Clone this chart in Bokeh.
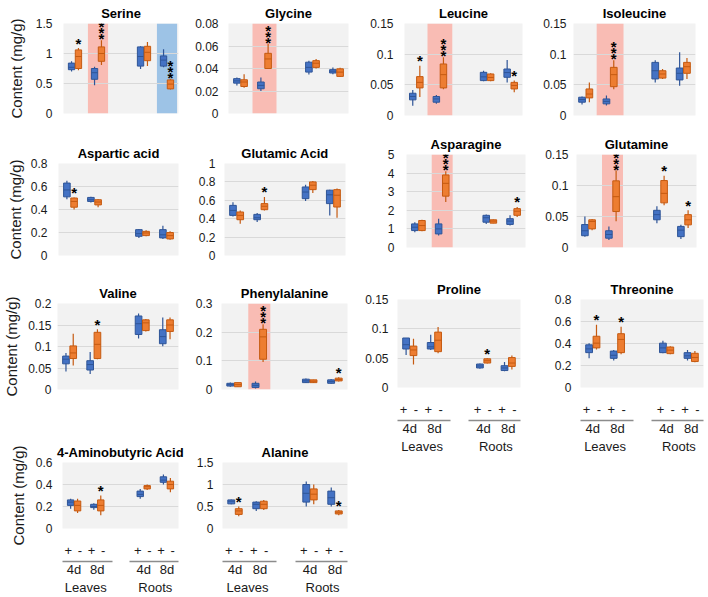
from bokeh.plotting import figure
from bokeh.models import (FactorRange, Range1d, FixedTicker, ColumnDataSource,
                          CategoricalAxis)
from bokeh.transform import dodge
from bokeh.layouts import row, column
from bokeh.embed import file_html
from bokeh.resources import INLINE
from bokeh.core.properties import value

# ---------------- data ----------------
tissues = ["Leaves", "Roots"]
days = ["4d", "8d"]
treatments = ["+", "-"]
# order of every list: Leaves4d+, Leaves4d-, Leaves8d+, Leaves8d-, Roots4d+, Roots4d-, Roots8d+, Roots8d-

serine = dict(lo=[0.70, 0.72, 0.47, 0.81, 0.74, 0.79, 0.77, 0.40],
              q1=[0.73, 0.75, 0.57, 0.87, 0.79, 0.88, 0.79, 0.41],
              med=[0.77, 0.95, 0.68, 1.00, 0.95, 1.02, 0.89, 0.49],
              q3=[0.84, 1.06, 0.75, 1.11, 1.11, 1.12, 0.96, 0.56],
              hi=[0.87, 1.09, 0.78, 1.22, 1.12, 1.19, 1.07, 0.58])
serine_ticks = ["0", "0.5", "1", "1.5"]
serine_stars = [("Leaves", "4d", 1), ("Leaves", "8d", 3), ("Roots", "8d", 3)]

glycine = dict(lo=[0.025, 0.023, 0.020, 0.040, 0.0347, 0.040, 0.035, 0.0324],
               q1=[0.027, 0.024, 0.022, 0.040, 0.0368, 0.041, 0.036, 0.033],
               med=[0.029, 0.028, 0.025, 0.0485, 0.041, 0.0447, 0.0376, 0.0368],
               q3=[0.031, 0.030, 0.028, 0.0535, 0.0456, 0.047, 0.039, 0.0397],
               hi=[0.032, 0.035, 0.032, 0.062, 0.047, 0.0485, 0.041, 0.0406])
glycine_ticks = ["0", "0.02", "0.04", "0.06", "0.08"]
glycine_stars = [("Leaves", "8d", 3)]

leucine = dict(lo=[0.016, 0.030, 0.019, 0.043, 0.0558, 0.0558, 0.054, 0.038],
               q1=[0.0255, 0.045, 0.0217, 0.045, 0.0569, 0.0569, 0.0623, 0.0433],
               med=[0.031, 0.054, 0.027, 0.0666, 0.063, 0.062, 0.070, 0.049],
               q3=[0.0363, 0.0634, 0.031, 0.084, 0.0704, 0.0677, 0.0758, 0.054],
               hi=[0.0417, 0.081, 0.0336, 0.095, 0.073, 0.0688, 0.0904, 0.0569])
leucine_ticks = ["0", "0.05", "0.1", "0.15"]
leucine_stars = [("Leaves", "4d", 1), ("Leaves", "8d", 3), ("Roots", "8d", 1)]

isoleucine = dict(lo=[0.018, 0.0217, 0.0162, 0.043, 0.054, 0.0596, 0.0487, 0.0596],
                  q1=[0.0217, 0.0287, 0.019, 0.047, 0.0596, 0.061, 0.058, 0.0688],
                  med=[0.026, 0.035, 0.023, 0.0666, 0.073, 0.0677, 0.0688, 0.0796],
                  q3=[0.0298, 0.0433, 0.027, 0.0785, 0.0866, 0.073, 0.0774, 0.0866],
                  hi=[0.031, 0.054, 0.0325, 0.090, 0.090, 0.0758, 0.103, 0.0937])
isoleucine_ticks = ["0", "0.05", "0.1", "0.15"]
isoleucine_stars = [("Leaves", "8d", 3)]

aspartic = dict(lo=[0.49, 0.40, 0.46, 0.42, 0.153, 0.167, 0.144, 0.138],
                q1=[0.51, 0.42, 0.47, 0.44, 0.167, 0.173, 0.153, 0.144],
                med=[0.57, 0.47, 0.485, 0.465, 0.19, 0.196, 0.18, 0.173],
                q3=[0.63, 0.50, 0.505, 0.485, 0.225, 0.21, 0.225, 0.20],
                hi=[0.65, 0.505, 0.51, 0.49, 0.23, 0.22, 0.259, 0.21])
aspartic_ticks = ["0", "0.2", "0.4", "0.6", "0.8"]
aspartic_stars = [("Leaves", "4d", 1)]

glutamic = dict(lo=[0.425, 0.345, 0.364, 0.49, 0.593, 0.68, 0.436, 0.41],
                q1=[0.436, 0.389, 0.389, 0.498, 0.618, 0.716, 0.564, 0.527],
                med=[0.49, 0.436, 0.41, 0.535, 0.69, 0.764, 0.66, 0.655],
                q3=[0.545, 0.473, 0.447, 0.564, 0.745, 0.80, 0.71, 0.716],
                hi=[0.58, 0.49, 0.462, 0.636, 0.77, 0.81, 0.716, 0.727])
glutamic_ticks = ["0", "0.2", "0.4", "0.6", "0.8", "1"]
glutamic_stars = [("Leaves", "8d", 1)]

asparagine = dict(lo=[0.82, 0.87, 0.64, 2.45, 1.27, 1.31, 1.18, 1.64],
                  q1=[0.91, 0.91, 0.73, 2.76, 1.36, 1.31, 1.24, 1.73],
                  med=[1.09, 1.18, 1.0, 3.45, 1.6, 1.42, 1.42, 1.95],
                  q3=[1.27, 1.45, 1.27, 3.9, 1.73, 1.49, 1.55, 2.09],
                  hi=[1.36, 1.49, 1.55, 4.1, 1.78, 1.5, 1.73, 2.18])
asparagine_ticks = ["0", "1", "2", "3", "4", "5"]
asparagine_stars = [("Leaves", "8d", 3), ("Roots", "8d", 1)]

glutamine = dict(lo=[0.0175, 0.028, 0.012, 0.0425, 0.039, 0.068, 0.0136, 0.0316],
                 q1=[0.019, 0.030, 0.015, 0.058, 0.0447, 0.072, 0.0175, 0.0365],
                 med=[0.027, 0.042, 0.021, 0.082, 0.053, 0.0873, 0.028, 0.0447],
                 q3=[0.037, 0.0447, 0.027, 0.1075, 0.060, 0.108, 0.034, 0.053],
                 hi=[0.050, 0.046, 0.034, 0.124, 0.0666, 0.1157, 0.0365, 0.060])
glutamine_ticks = ["0", "0.05", "0.1", "0.15"]
glutamine_stars = [("Leaves", "8d", 3), ("Roots", "4d", 1), ("Roots", "8d", 1)]

valine = dict(lo=[0.042, 0.056, 0.036, 0.0705, 0.1187, 0.135, 0.1007, 0.117],
              q1=[0.0597, 0.072, 0.0453, 0.072, 0.128, 0.137, 0.1065, 0.135],
              med=[0.0705, 0.085, 0.058, 0.105, 0.153, 0.155, 0.123, 0.15],
              q3=[0.0777, 0.1014, 0.067, 0.133, 0.171, 0.162, 0.139, 0.162],
              hi=[0.085, 0.1295, 0.087, 0.14, 0.177, 0.164, 0.1676, 0.1676])
valine_ticks = ["0", "0.05", "0.1", "0.15", "0.2"]
valine_stars = [("Leaves", "8d", 1)]

phenylalanine = dict(lo=[0.0096, 0.0096, 0.0036, 0.096, 0.0228, 0.023, 0.020, 0.0276],
                     q1=[0.012, 0.0096, 0.0072, 0.1056, 0.024, 0.024, 0.0216, 0.030],
                     med=[0.0168, 0.0168, 0.0144, 0.1836, 0.030, 0.0288, 0.0276, 0.035],
                     q3=[0.0216, 0.024, 0.0216, 0.21, 0.036, 0.0336, 0.0336, 0.0396],
                     hi=[0.024, 0.024, 0.0276, 0.228, 0.0384, 0.034, 0.037, 0.043])
phenylalanine_ticks = ["0", "0.1", "0.2", "0.3"]
phenylalanine_stars = [("Leaves", "8d", 3), ("Roots", "8d", 1)]

proline = dict(lo=[0.0556, 0.039, 0.064, 0.0583, 0.032, 0.041, 0.0278, 0.0306],
               q1=[0.0656, 0.0544, 0.0656, 0.0611, 0.0333, 0.0417, 0.0289, 0.036],
               med=[0.073, 0.064, 0.0694, 0.0806, 0.0367, 0.0456, 0.0333, 0.0417],
               q3=[0.0844, 0.0706, 0.0767, 0.0944, 0.040, 0.0489, 0.0372, 0.051],
               hi=[0.0844, 0.083, 0.09, 0.103, 0.041, 0.050, 0.0433, 0.0544])
proline_ticks = ["0", "0.05", "0.1", "0.15"]
proline_stars = [("Roots", "4d", 1)]

threonine = dict(lo=[0.265, 0.345, 0.245, 0.302, 0.311, 0.302, 0.245, 0.23],
                 q1=[0.317, 0.36, 0.265, 0.317, 0.317, 0.308, 0.265, 0.236],
                 med=[0.351, 0.403, 0.293, 0.437, 0.36, 0.34, 0.288, 0.273],
                 q3=[0.388, 0.466, 0.331, 0.489, 0.403, 0.368, 0.317, 0.311],
                 hi=[0.403, 0.57, 0.34, 0.552, 0.426, 0.374, 0.34, 0.331])
threonine_ticks = ["0", "0.2", "0.4", "0.6", "0.8"]
threonine_stars = [("Leaves", "4d", 1), ("Leaves", "8d", 1)]

gaba = dict(lo=[0.18, 0.14, 0.17, 0.12, 0.27, 0.35, 0.40, 0.33],
            q1=[0.21, 0.16, 0.19, 0.16, 0.29, 0.36, 0.42, 0.36],
            med=[0.24, 0.21, 0.20, 0.21, 0.31, 0.38, 0.44, 0.40],
            q3=[0.26, 0.25, 0.22, 0.26, 0.34, 0.39, 0.47, 0.43],
            hi=[0.27, 0.27, 0.23, 0.30, 0.36, 0.40, 0.49, 0.46])
gaba_ticks = ["0", "0.2", "0.4", "0.6"]
gaba_stars = [("Leaves", "8d", 1)]

alanine = dict(lo=[0.55, 0.28, 0.40, 0.42, 0.50, 0.55, 0.50, 0.30],
               q1=[0.56, 0.32, 0.45, 0.45, 0.60, 0.65, 0.55, 0.33],
               med=[0.62, 0.40, 0.55, 0.55, 0.80, 0.78, 0.70, 0.37],
               q3=[0.65, 0.45, 0.60, 0.62, 1.00, 0.90, 0.85, 0.40],
               hi=[0.66, 0.50, 0.62, 0.65, 1.07, 1.00, 0.93, 0.42])
alanine_ticks = ["0", "0.5", "1", "1.5"]
alanine_stars = [("Leaves", "4d", 1), ("Roots", "8d", 1)]

# ---------------- style ----------------
FONT = "Liberation Sans"
BLUE, BLUE_EDGE = "#4472C4", "#2F5597"
ORANGE, ORANGE_EDGE = "#ED7D31", "#C55A11"
RED_SHADE, BLUE_SHADE = "#F9BCB4", "#9DC3E6"
BG, GRID = "#F2F2F2", "#D9D9D9"
SEP = "#8C8C8C"
TXT = "#1a1a1a"
BOX_W = 0.55
OFF = 0.2
GROUP_PAD = 2

factors = [(t, d, s) for t in tissues for d in days for s in treatments]
day_factors = [(t, d) for t in tissues for d in days]


def style_text_axis(ax):
    ax.axis_line_color = None
    ax.major_tick_line_color = None
    ax.minor_tick_line_color = None
    ax.major_tick_out = 0
    ax.major_tick_in = 0
    ax.separator_line_color = None
    for pre in ("major_label_text", "subgroup_text", "group_text"):
        setattr(ax, pre + "_font", FONT)
        setattr(ax, pre + "_font_size", "13px")
        setattr(ax, pre + "_font_style", "normal")
        setattr(ax, pre + "_color", TXT)


def hidden_axis(**kw):
    a = CategoricalAxis(**kw)
    style_text_axis(a)
    a.major_label_text_color = None
    a.subgroup_text_color = None
    a.group_text_color = None
    return a


def make_panel(title, stats, ticks, stars, shades, canvas, frame,
               ylabel=False, xlabels=False, ylabel_standoff=4, tick_standoff=9):
    cx0, cy0, cx1, cy1 = canvas
    fx0, fy0, fx1, fy1 = frame
    tick_vals = [float(t) for t in ticks]
    xr = FactorRange(factors=factors, factor_padding=0, subgroup_padding=0,
                     group_padding=GROUP_PAD, range_padding=0)
    p = figure(width=cx1 - cx0, height=cy1 - cy0, x_range=xr,
               y_range=Range1d(tick_vals[0], tick_vals[-1]),
               min_border_left=fx0 - cx0, min_border_right=cx1 - fx1,
               min_border_top=fy0 - cy0, min_border_bottom=cy1 - fy1,
               output_backend="svg", toolbar_location=None,
               x_axis_location="below" if xlabels else None,
               background_fill_color=BG, border_fill_color="white",
               outline_line_color=None, title=title)
    p.title.align = "center"
    p.title.text_font = FONT
    p.title.text_font_size = "13px"
    p.title.text_font_style = "bold"
    p.title.text_color = "#000000"
    p.title.standoff = 6

    ticker = FixedTicker(ticks=tick_vals)
    ax = p.yaxis[0]
    ax.ticker = ticker
    ax.major_label_overrides = {v: t for v, t in zip(tick_vals, ticks)}
    ax.axis_line_color = None
    ax.major_tick_line_color = None
    ax.minor_tick_line_color = None
    ax.major_tick_out = 0
    ax.major_tick_in = 0
    ax.major_label_standoff = tick_standoff
    ax.major_label_text_font = FONT
    ax.major_label_text_font_size = "12px"
    ax.major_label_text_color = TXT
    if ylabel:
        ax.axis_label = "Content (mg/g)"
        ax.axis_label_text_font = FONT
        ax.axis_label_text_font_size = "15px"
        ax.axis_label_text_font_style = "normal"
        ax.axis_label_text_color = TXT
        ax.axis_label_standoff = ylabel_standoff
    p.ygrid.ticker = ticker
    p.ygrid.grid_line_color = GRID
    p.xgrid.grid_line_color = None

    if xlabels:
        # row 1: "+ -" (innermost level of the main factor range)
        pm = p.xaxis[0]
        style_text_axis(pm)
        pm.major_label_standoff = 17
        pm.subgroup_text_color = None
        pm.group_text_color = None
        # small gap, then a rule under each tissue group (label-less axes limited by bounds)
        gap = hidden_axis()
        gap.major_tick_out = 4
        p.add_layout(gap, "below")
        for a, b in [(0.0, 4.3), (5.8, 10.2)]:
            la = hidden_axis(bounds=(a, b))
            la.axis_line_color = SEP
            la.axis_line_width = 1.3
            p.add_layout(la, "below")
        # rows 2 and 3: days and tissues
        p.extra_x_ranges = {
            "days": FactorRange(factors=day_factors, factor_padding=1,
                                group_padding=GROUP_PAD + 1, range_padding=0.5,
                                range_padding_units="absolute"),
        }
        da = CategoricalAxis(x_range_name="days")
        style_text_axis(da)
        da.major_label_standoff = 0
        p.add_layout(da, "below")

    for (t, d, color, w) in shades:
        p.vbar(x=[(t, d)], width=w, bottom=tick_vals[0], top=tick_vals[-1],
               fill_color=color, line_color=None, level="underlay")

    for idx, off, fill, edge in [(range(0, 8, 2), OFF, BLUE, BLUE_EDGE),
                                 (range(1, 8, 2), -OFF, ORANGE, ORANGE_EDGE)]:
        data = {k: [stats[k][i] for i in idx] for k in ("lo", "q1", "med", "q3", "hi")}
        data["x"] = [factors[i] for i in idx]
        src = ColumnDataSource(data)
        p.segment(x0=dodge("x", off, range=xr), x1=dodge("x", off, range=xr),
                  y0="lo", y1="hi", source=src, line_color=edge, line_width=1.2)
        p.vbar(x=dodge("x", off, range=xr), width=BOX_W, bottom="q1", top="q3",
               source=src, fill_color=fill, line_color=edge, line_width=1)
        p.segment(x0=dodge("x", off - BOX_W / 2, range=xr),
                  x1=dodge("x", off + BOX_W / 2, range=xr),
                  y0="med", y1="med", source=src, line_color=edge, line_width=1)

    sx, sy, so, st = [], [], [], []
    for (t, d, n) in stars:
        i = factors.index((t, d, "-"))
        for k in range(n):
            sx.append((t, d, "-"))
            sy.append(stats["hi"][i])
            so.append(-5 if n == 1 else -1.5 - 6 * k)
            st.append("*")
    if sx:
        ssrc = ColumnDataSource(dict(x=sx, y=sy, off=so, t=st))
        p.text(x=dodge("x", -OFF, range=xr), y="y", text="t", y_offset="off",
               source=ssrc, text_align="center", text_baseline="alphabetic",
               text_font=value(FONT), text_font_size="15px", text_font_style="bold",
               text_color="#000000")
    return p


p_serine = make_panel("Serine", serine, serine_ticks, serine_stars,
                      [("Leaves", "8d", RED_SHADE, 1.75), ("Roots", "8d", BLUE_SHADE, 1.75)],
                      (0, 0, 192, 130), (63, 23, 178, 115), ylabel=True,
                      ylabel_standoff=8, tick_standoff=11)
p_glycine = make_panel("Glycine", glycine, glycine_ticks, glycine_stars,
                       [("Leaves", "8d", RED_SHADE, 2.0)],
                       (192, 0, 355, 130), (228, 23, 348, 113), tick_standoff=10)
p_aspartic = make_panel("Aspartic acid", aspartic, aspartic_ticks, aspartic_stars, [],
                        (0, 130, 192, 272), (58, 163, 178, 256), ylabel=True,
                        ylabel_standoff=4, tick_standoff=11)
p_glutamic = make_panel("Glutamic Acid", glutamic, glutamic_ticks, glutamic_stars, [],
                        (192, 130, 355, 272), (224, 163, 345, 255))
p_valine = make_panel("Valine", valine, valine_ticks, valine_stars, [],
                      (0, 272, 192, 410), (56, 303, 178, 398), ylabel=True,
                      ylabel_standoff=5, tick_standoff=6)
p_phe = make_panel("Phenylalanine", phenylalanine, phenylalanine_ticks, phenylalanine_stars,
                   [("Leaves", "8d", RED_SHADE, 1.75)],
                   (192, 272, 355, 410), (220, 303, 347, 389))
p_gaba = make_panel("4-Aminobutyric Acid", gaba, gaba_ticks, gaba_stars, [],
                    (0, 410, 192, 597), (62, 462, 178, 533), ylabel=True, xlabels=True,
                    ylabel_standoff=6, tick_standoff=10)
p_alanine = make_panel("Alanine", alanine, alanine_ticks, alanine_stars, [],
                       (192, 410, 355, 597), (222, 462, 347, 533), xlabels=True)

p_leucine = make_panel("Leucine", leucine, leucine_ticks, leucine_stars,
                       [("Leaves", "8d", RED_SHADE, 2.1)],
                       (355, 0, 533, 127), (404, 23, 522, 115), tick_standoff=11)
p_isoleucine = make_panel("Isoleucine", isoleucine, isoleucine_ticks, isoleucine_stars,
                          [("Leaves", "8d", RED_SHADE, 2.2)],
                          (533, 0, 706, 127), (573, 23, 695, 115), tick_standoff=7)
p_asparagine = make_panel("Asparagine", asparagine, asparagine_ticks, asparagine_stars,
                          [("Leaves", "8d", RED_SHADE, 1.76)],
                          (355, 127, 533, 265), (406, 154, 525, 247), tick_standoff=12)
p_glutamine = make_panel("Glutamine", glutamine, glutamine_ticks, glutamine_stars,
                         [("Leaves", "8d", RED_SHADE, 1.75)],
                         (533, 127, 706, 265), (576, 154, 696, 247), tick_standoff=8)
p_proline = make_panel("Proline", proline, proline_ticks, proline_stars, [],
                       (355, 265, 533, 597), (397, 299, 520, 390), xlabels=True)
p_threonine = make_panel("Threonine", threonine, threonine_ticks, threonine_stars, [],
                         (533, 265, 706, 597), (580, 294, 703, 387), xlabels=True)

left = column(row(p_serine, p_glycine), row(p_aspartic, p_glutamic),
              row(p_valine, p_phe), row(p_gaba, p_alanine))
right = column(row(p_leucine, p_isoleucine), row(p_asparagine, p_glutamine),
               row(p_proline, p_threonine))
root = row(left, right)

open("out.html", "w").write(file_html(root, INLINE))
